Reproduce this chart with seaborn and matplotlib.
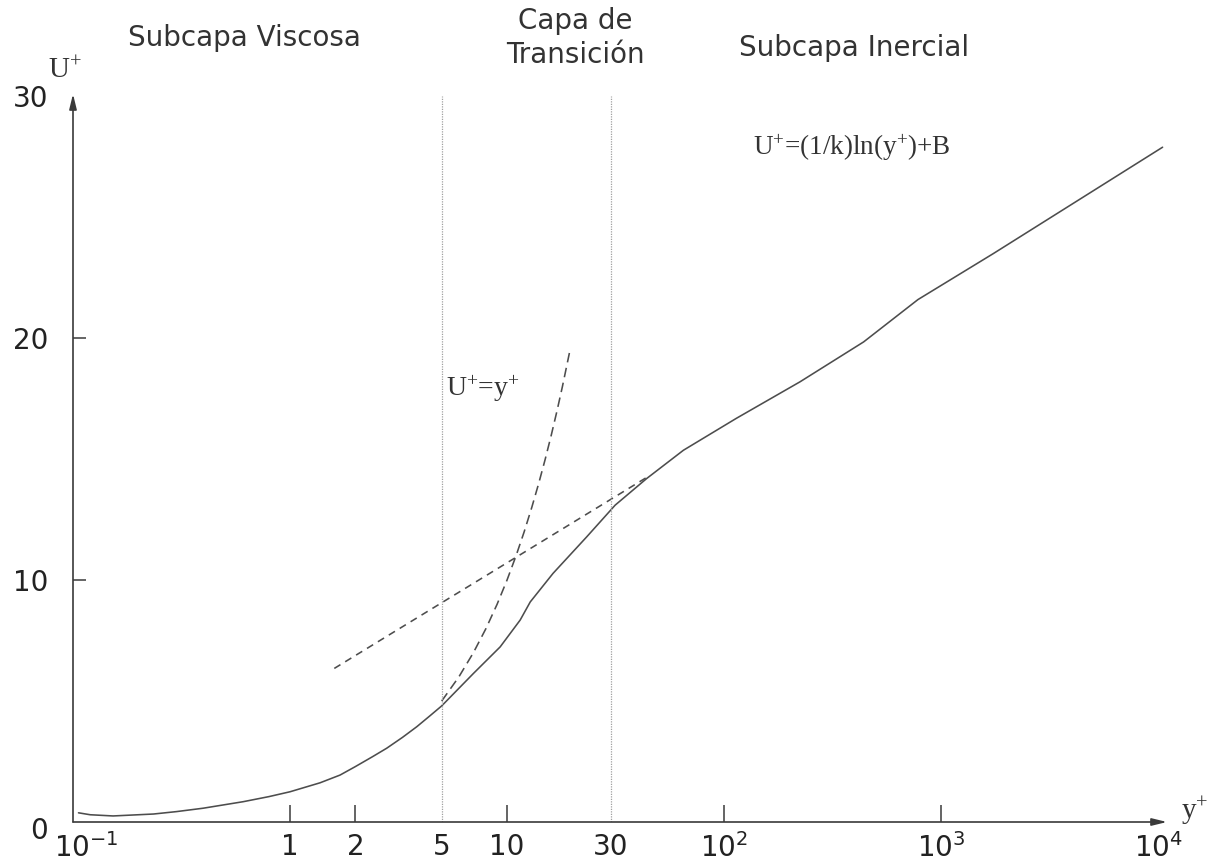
import numpy as np
import pandas as pd
import matplotlib
matplotlib.use("Agg")
import matplotlib.pyplot as plt
import matplotlib.transforms as mtransforms
import seaborn as sns

# ---- data ----
solid_x = [0.106, 0.12, 0.153, 0.235, 0.3, 0.398, 0.609, 0.8, 1.0, 1.375, 1.7, 2.0, 2.4,
           2.79, 3.3, 3.84, 4.4, 5.0, 7.0, 9.3, 11.5, 12.8, 16.3, 23.3, 31.5, 44, 65,
           114, 224, 440, 783, 1741, 10500]
solid_u = [0.38, 0.30, 0.25, 0.33, 0.43, 0.57, 0.84, 1.05, 1.25, 1.62, 1.94, 2.29, 2.7,
           3.05, 3.5, 3.94, 4.38, 4.8, 6.14, 7.24, 8.35, 9.1, 10.28, 11.79, 13.1, 14.2, 15.37,
           16.69, 18.2, 19.85, 21.6, 23.5, 27.9]

visc_x = [5.0, 6.0, 7.0, 8.0, 9.0, 10.0, 11.0, 12.0, 13.0, 14.0, 15.0, 16.0, 17.0, 18.0, 19.5]
visc_u = [5.0, 6.0, 7.0, 8.0, 9.0, 10.0, 11.0, 12.0, 13.0, 14.0, 15.0, 16.0, 17.0, 18.0, 19.5]

log_x = [1.6, 45]
log_u = [6.35, 14.3]

region_bounds = [5, 30]

xtick_vals = [0.1, 1, 2, 5, 10, 30, 100, 1000, 10000]
xtick_labels = [r'$\mathregular{10^{-1}}$', '1', '2', '5', '10', '30',
                r'$\mathregular{10^{2}}$', r'$\mathregular{10^{3}}$', r'$\mathregular{10^{4}}$']
ytick_vals = [0, 10, 20, 30]
ytick_labels = ['0', '10', '20', '30']

region_titles = ['Subcapa Viscosa', 'Capa de\nTransición', 'Subcapa Inercial']

# ---- figure ----
sns.set_style('white')
plt.rcParams['font.family'] = ['DejaVu Sans']

W, H = 1221, 867
fig = plt.figure(figsize=(W / 100, H / 100), dpi=100)
ax = fig.add_axes([73 / W, 45 / H, (1167 - 73) / W, (822 - 94) / H])
ax.set_xscale('log')

line_col = '#4d4d4d'
df_solid = pd.DataFrame({'x': solid_x, 'u': solid_u})
df_visc = pd.DataFrame({'x': visc_x, 'u': visc_u})
df_log = pd.DataFrame({'x': log_x, 'u': log_u})

sns.lineplot(data=df_solid, x='x', y='u', ax=ax, color=line_col, lw=1.15,
             sort=False, estimator=None)
sns.lineplot(data=df_visc, x='x', y='u', ax=ax, color=line_col, lw=1.15,
             sort=False, estimator=None, linestyle=(0, (6, 3.5)))
sns.lineplot(data=df_log, x='x', y='u', ax=ax, color=line_col, lw=1.15,
             sort=False, estimator=None, linestyle=(0, (4.5, 3.5)))

for xb in region_bounds:
    ax.plot([xb, xb], [0, 30], color='#a0a0a0', lw=0.9, linestyle=(0, (1, 1)))

ax.set_xlim(0.1, 10 ** (4 + 9 / 217))
ax.set_ylim(0, 30.1)
ax.set_xlabel('')
ax.set_ylabel('')

for s in ax.spines.values():
    s.set_visible(False)

# axis arrows
arrow_kw = dict(arrowstyle='-|>,head_length=0.9,head_width=0.22', color='#3a3a3a', lw=1.2,
                shrinkA=0, shrinkB=0)
ax.annotate('', xy=(1.0, 0), xytext=(0, 0), xycoords='axes fraction',
            textcoords='axes fraction', arrowprops=arrow_kw, annotation_clip=False)
ax.annotate('', xy=(0, 1.0), xytext=(0, 0), xycoords='axes fraction',
            textcoords='axes fraction', arrowprops=arrow_kw, annotation_clip=False)

# ticks
ax.set_xticks(xtick_vals)
ax.set_xticklabels(xtick_labels)
ax.xaxis.set_minor_locator(matplotlib.ticker.NullLocator())
ax.tick_params(axis='x', direction='in', length=12, width=1.1, color='#3a3a3a',
               labelsize=20, pad=8, labelcolor='#222222', bottom=True)
for i, t in enumerate(ax.xaxis.get_major_ticks()):
    if xtick_vals[i] in (0.1, 5, 30, 10000):
        t.tick1line.set_visible(False)

ax.set_yticks(ytick_vals)
ax.set_yticklabels(ytick_labels)
ax.tick_params(axis='y', direction='in', length=9, width=1.1, color='#3a3a3a',
               labelsize=20, pad=18, labelcolor='#222222', left=True)
for i, t in enumerate(ax.yaxis.get_major_ticks()):
    if ytick_vals[i] in (0, 30):
        t.tick1line.set_visible(False)

# shift some labels as in the reference
xl = ax.get_xticklabels()
xl[0].set_transform(xl[0].get_transform() + mtransforms.ScaledTranslation(13 / 100, 0, fig.dpi_scale_trans))
yl = ax.get_yticklabels()
yl[0].set_transform(yl[0].get_transform() + mtransforms.ScaledTranslation(0, -6 / 100, fig.dpi_scale_trans))

# axis labels
serif = ['Liberation Serif', 'DejaVu Serif']
fig.text(48 / W, 1 - 71 / H, r'$\mathregular{U^{+}}$', family=serif, fontsize=21,
         color='#333333', ha='left', va='center')
fig.text(1181 / W, 1 - 811 / H, r'$\mathregular{y^{+}}$', family=serif, fontsize=21,
         color='#333333', ha='left', va='center')

# region titles
fig.text(244 / W, 1 - 38 / H, region_titles[0], fontsize=20, color='#333333',
         ha='center', va='center')
fig.text(575 / W, 1 - 38 / H, region_titles[1], fontsize=20, color='#333333',
         ha='center', va='center', linespacing=1.25)
fig.text(854 / W, 1 - 48 / H, region_titles[2], fontsize=20, color='#333333',
         ha='center', va='center')

# formulas
fig.text(753 / W, 1 - 148 / H, r'$\mathregular{U^{+}}$=(1/k)ln($\mathregular{y^{+}}$)+B',
         family=serif, fontsize=19.5, color='#333333', ha='left', va='center')
fig.text(446 / W, 1 - 389 / H, r'$\mathregular{U^{+}}$=$\mathregular{y^{+}}$',
         family=serif, fontsize=20, color='#333333', ha='left', va='center')

fig.savefig('out.png', dpi=100)
